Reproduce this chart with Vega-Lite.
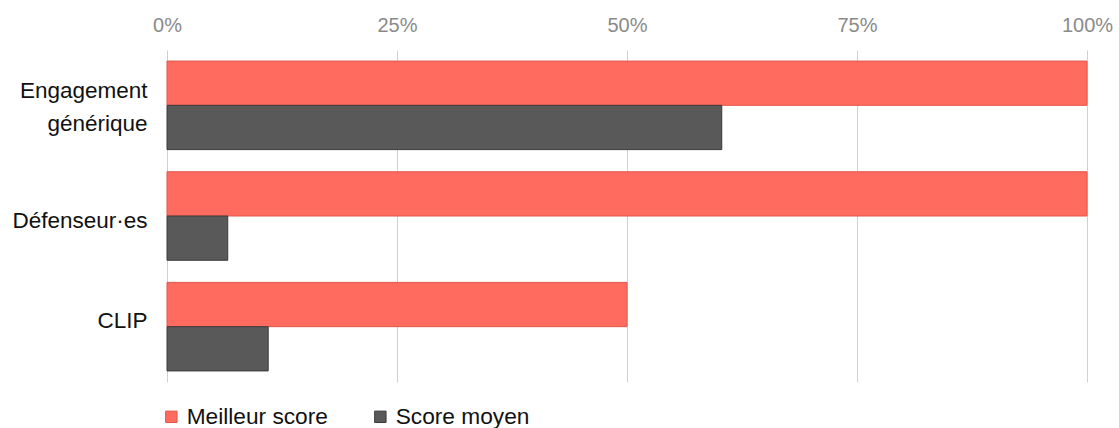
{
  "$schema": "https://vega.github.io/schema/vega-lite/v6.json",
  "autosize": {"type": "none"},
  "padding": {"left": 167, "top": 50, "right": 32, "bottom": 46},
  "width": 920,
  "height": 332,
  "background": "white",
  "data": {
    "values": [
      {"categorie": "Engagement générique", "serie": "Meilleur score", "valeur": 1.0},
      {"categorie": "Engagement générique", "serie": "Score moyen", "valeur": 0.603},
      {"categorie": "Défenseur·es", "serie": "Meilleur score", "valeur": 1.0},
      {"categorie": "Défenseur·es", "serie": "Score moyen", "valeur": 0.066},
      {"categorie": "CLIP", "serie": "Meilleur score", "valeur": 0.5},
      {"categorie": "CLIP", "serie": "Score moyen", "valeur": 0.11}
    ]
  },
  "mark": {"type": "bar", "strokeWidth": 1},
  "encoding": {
    "y": {
      "field": "categorie",
      "type": "nominal",
      "sort": ["Engagement générique", "Défenseur·es", "CLIP"],
      "scale": {"paddingInner": 0.2, "paddingOuter": 0.1},
      "axis": {
        "title": null,
        "domain": false,
        "ticks": false,
        "labelFont": "Liberation Sans",
        "labelFontSize": 22.5,
        "labelColor": "#111111",
        "labelPadding": 20,
        "labelLineHeight": 33,
        "labelExpr": "datum.label == 'Engagement générique' ? ['Engagement', 'générique'] : datum.label",
        "labelOffset": {
          "condition": [
            {"test": "datum.value == 'CLIP'", "value": -6},
            {"test": "datum.value == 'Défenseur·es'", "value": 5}
          ],
          "value": -14
        }
      }
    },
    "yOffset": {
      "field": "serie",
      "type": "nominal",
      "sort": ["Meilleur score", "Score moyen"],
      "scale": {"paddingInner": 0, "paddingOuter": 0}
    },
    "x": {
      "field": "valeur",
      "type": "quantitative",
      "scale": {"domain": [0, 1], "nice": false},
      "axis": {
        "orient": "top",
        "title": null,
        "format": ".0%",
        "values": [0, 0.25, 0.5, 0.75, 1],
        "domain": false,
        "ticks": false,
        "grid": true,
        "gridColor": "#d0d0d0",
        "gridWidth": 1,
        "labelFont": "Liberation Sans",
        "labelFontSize": 20,
        "labelColor": "#8a8a8a",
        "labelPadding": 15,
        "labelFlush": false
      }
    },
    "color": {
      "field": "serie",
      "type": "nominal",
      "sort": ["Meilleur score", "Score moyen"],
      "scale": {"domain": ["Meilleur score", "Score moyen"], "range": ["#ff6b5e", "#595959"]},
      "legend": {
        "title": null,
        "orient": "none",
        "legendX": -7,
        "legendY": 355,
        "direction": "horizontal",
        "padding": 0,
        "symbolType": "square",
        "symbolSize": 130,
        "symbolStrokeWidth": 1,
        "labelFont": "Liberation Sans",
        "labelFontSize": 22.7,
        "labelColor": "#111111",
        "labelOffset": 4,
        "columnPadding": 41
      }
    },
    "stroke": {
      "field": "serie",
      "type": "nominal",
      "scale": {"domain": ["Meilleur score", "Score moyen"], "range": ["#e2564a", "#3a3a3a"]},
      "legend": null
    }
  },
  "config": {"view": {"stroke": null}}
}
